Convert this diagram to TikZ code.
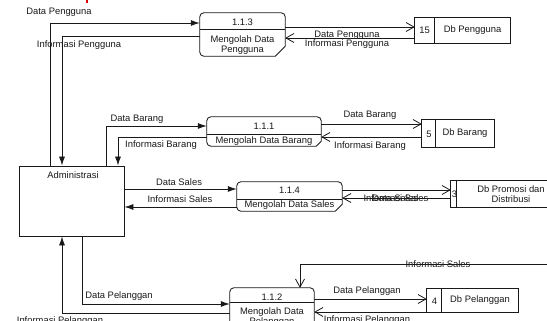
\documentclass[tikz,border=0pt]{standalone}
\usepackage{fontspec}
\setmainfont{Liberation Sans}
\usetikzlibrary{arrows.meta,calc}
\tikzset{
  every picture/.style={x=1pt,y=-1pt},
  lbl/.style={font=\fontsize{9.4}{10.5}\selectfont, inner sep=0pt, text=black!90},
  ln/.style={line width=0.85pt, draw=black!90},
  fa/.style={ln, -{Latex[length=9pt,width=6pt]}},
  oa/.style={ln, -{Straight Barb[length=8pt,width=9pt,line width=0.8pt]}},
  hold/.style={minimum width=#1, inner sep=0pt, draw=none},
}
\newcommand{\procbox}[3]{% name, divider y offset from top, chamfer
  \draw[ln] ($(#1.south east)+(0,-#3)$) [rounded corners=4pt] -- (#1.north east) -- (#1.north west) -- (#1.south west) [sharp corners] -- ($(#1.south east)+(-#3,0)$) -- cycle;
  \draw[ln] ($(#1.north west)+(0,#2)$) -- ($(#1.north east)+(0,#2)$);
}
\newcommand{\storebox}[2]{% name, divider x offset from left
  \draw[ln] (#1.north west) rectangle (#1.south east);
  \draw[ln] ($(#1.north west)+(#2,0)$) -- ($(#1.south west)+(#2,0)$);
}
\begin{document}
\begin{tikzpicture}
\useasboundingbox (0,0) rectangle (547,321);
\clip (0,0) rectangle (547,321);
% red fragment at top
\fill[red!85!black] (85.5,0) rectangle (87.5,3);

% Administrasi
\node[ln, draw, minimum width=105pt, minimum height=70pt, inner sep=0pt] (adm) at (71.5,201) {};
\node[lbl] (admt) at (73,175) {Administrasi};

% processes (placeholders)
\node[hold=85pt, minimum height=43pt] (p113) at (242.5,34.5) {};
\node[hold=114pt, minimum height=29pt] (p111) at (264,131.5) {};
\node[hold=105pt, minimum height=29pt] (p114) at (289.5,196.5) {};
\node[hold=84pt, minimum height=50pt] (p112) at (272,313) {};
\procbox{p113}{17}{10}
\procbox{p111}{18}{5}
\procbox{p114}{18}{7}
\procbox{p112}{15}{6}
\node[lbl] (t113a) at (242.5,22) {1.1.3};
\node[lbl, align=center] (t113b) at (242.5,45) {Mengolah Data\\Pengguna};
\node[lbl] (t111a) at (264,126) {1.1.1};
\node[lbl] (t111b) at (264,141) {Mengolah Data Barang};
\node[lbl] (t114a) at (289.5,190) {1.1.4};
\node[lbl] (t114b) at (289.5,205.5) {Mengolah Data Sales};
\node[lbl] (t112a) at (272,297) {1.1.2};
\node[lbl, align=center, anchor=north] (t112b) at (272,307) {Mengolah Data\\Pelanggan};

% data stores
\node[hold=95pt, minimum height=25pt] (s15) at (462.5,30.5) {};
\node[hold=72pt, minimum height=27pt] (s5) at (458,133.5) {};
\node[hold=110pt, minimum height=26pt] (s3) at (506,194) {};
\node[hold=91pt, minimum height=23pt] (s4) at (472.5,300.5) {};
\storebox{s15}{20}
\storebox{s5}{14}
\storebox{s3}{6}
\storebox{s4}{15}
\node[lbl] (n15) at (424.5,30.5) {15};
\node[lbl] (d15) at (472.5,30.5) {Db Pengguna};
\node[lbl] (n5) at (429,134) {5};
\node[lbl] (d5) at (465,133) {Db Barang};
\node[lbl] (n3) at (454.5,194.5) {3};
\node[lbl, align=center] (d3) at (511,194) {Db Promosi dan\\Distribusi};
\node[lbl] (n4) at (434.5,301) {4};
\node[lbl] (d4) at (480,300.5) {Db Pelanggan};

% bend coordinates
\coordinate (b1) at (50,23);
\coordinate (b2) at (62,36);
\coordinate (b3) at (106,126);
\coordinate (b4) at (118,137);
\coordinate (b5) at (180,189);
\coordinate (b6) at (180,207);
\coordinate (b7) at (82,304);
\coordinate (b8) at (62,313);
\coordinate (c1) at (350,27);
\coordinate (c2) at (350,38);
\coordinate (c3) at (370,124);
\coordinate (c4) at (370,137);
\coordinate (c5) at (400,190);
\coordinate (c6) at (400,198);
\coordinate (c7) at (370,299);
\coordinate (c8) at (370,312);
\coordinate (c9) at (300,264);
\coordinate (e1) at (548,264);

% admin <-> processes
\draw[fa] (b1 |- adm.north) -- (b1) -- (b1 -| p113.west);
\draw[fa] (b2 -| p113.west) -- (b2) -- (b2 |- adm.north);
\draw[fa] (b3 |- adm.north) -- (b3) -- (b3 -| p111.west);
\draw[fa] (b4 -| p111.west) -- (b4) -- (b4 |- adm.north);
\draw[fa] (b5 -| adm.east) -- (b5 -| p114.west);
\draw[fa] (b6 -| p114.west) -- (b6 -| adm.east);
\draw[fa] (b7 |- adm.south) -- (b7) -- (b7 -| p112.west);
\draw[fa] (b8 -| p112.west) -- (b8) -- (b8 |- adm.south);

% processes <-> stores
\draw[oa] (c1 -| p113.east) -- (c1 -| s15.west);
\draw[oa] (c2 -| s15.west) -- (c2 -| p113.east);
\draw[oa] (c3 -| p111.east) -- (c3 -| s5.west);
\draw[oa] (c4 -| s5.west) -- (c4 -| p111.east);
\draw[oa] (c5 -| p114.east) -- (c5 -| s3.west);
\draw[oa] (c6 -| s3.west) -- (c6 -| p114.east);
\draw[oa] (c7 -| p112.east) -- (c7 -| s4.west);
\draw[oa] (c8 -| s4.west) -- (c8 -| p112.east);
\draw[oa] (e1) -- (c9) -- (c9 |- p112.north);

% labels
\node[lbl] (l1) at (59,12) {Data Pengguna};
\node[lbl] (l2) at (79,45) {Informasi Pengguna};
\node[lbl] (l3) at (137,119) {Data Barang};
\node[lbl] (l4) at (161,145) {Informasi Barang};
\node[lbl] (l5) at (179,182) {Data Sales};
\node[lbl] (l6) at (180,199) {Informasi Sales};
\node[lbl] (l7) at (119,296) {Data Pelanggan};
\node[lbl] (l8) at (60,321) {Informasi Pelanggan};
\node[lbl] (l9) at (347,35) {Data Pengguna};
\node[lbl] (l10) at (347,44) {Informasi Pengguna};
\node[lbl] (l11) at (370,115) {Data Barang};
\node[lbl] (l12) at (370,146) {Informasi Barang};
\node[lbl] (l13) at (395,198) {Data Sales};
\node[lbl] (l14) at (396,198) {Informasi Sales};
\node[lbl] (l15) at (367,291) {Data Pelanggan};
\node[lbl] (l16) at (367,320) {Informasi Pelanggan};
\node[lbl] (l17) at (438,264) {Informasi Sales};
\end{tikzpicture}
\end{document}
